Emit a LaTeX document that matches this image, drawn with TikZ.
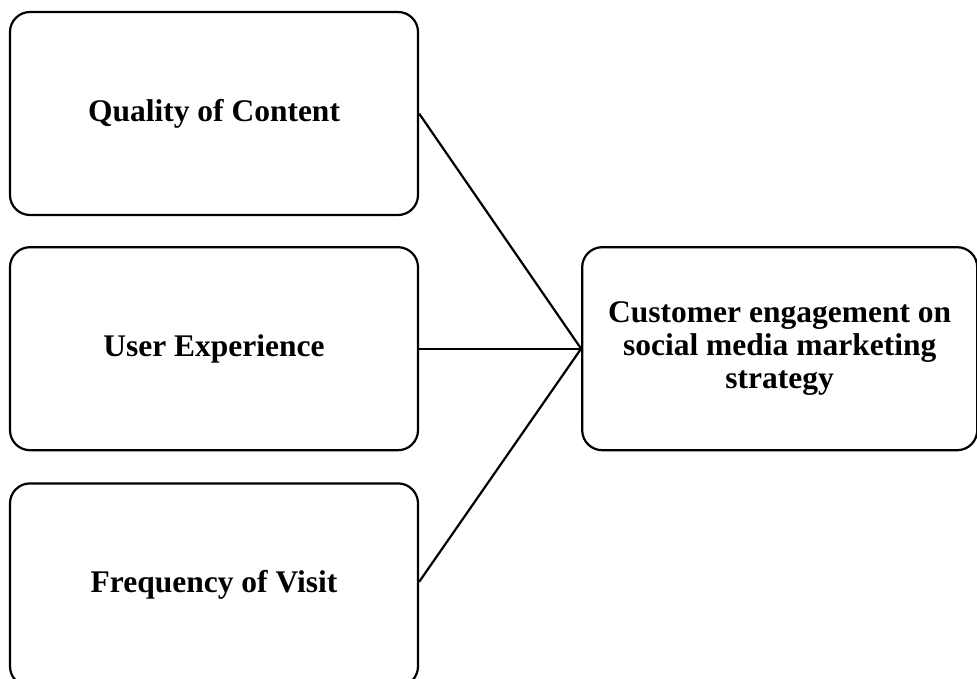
\documentclass[tikz,border=0pt]{standalone}
\usepackage{fontspec}
\setmainfont{Liberation Serif}
\usepackage{tikz}
\usetikzlibrary{positioning}

\begin{document}
\begin{tikzpicture}
            % Box styles
            \tikzstyle{factor} = [rectangle, rounded corners=20pt, draw, line width=2.2pt, align=center, minimum width=408pt, minimum height=203pt, font=\bfseries\fontsize{31.5}{34}\selectfont]
            \tikzstyle{outcome} = [rectangle, rounded corners=20pt, draw, line width=2.2pt, align=center, minimum width=395pt, minimum height=203pt, font=\bfseries\fontsize{31.5}{33}\selectfont]
            \tikzstyle{link} = [line width=2.2pt]
            \useasboundingbox (0,0) rectangle (977pt,678pt);
            % Independent variables
            \node[factor] (quality) at (214pt,564.5pt) {Quality of Content};
            \node[factor, below=30pt of quality] (experience) {User Experience};
            \node[factor, below=31pt of experience] (frequency) {Frequency of Visit};
            % Dependent variable
            \node[outcome, right=162pt of experience] (engagement) {Customer engagement on\\social media marketing\\strategy};
            % Connections
            \draw[link] (quality.east) -- (engagement.west);
            \draw[link] (experience.east) -- (engagement.west);
            \draw[link] ([yshift=3pt]frequency.east) -- (engagement.west);
        \end{tikzpicture}
\end{document}
